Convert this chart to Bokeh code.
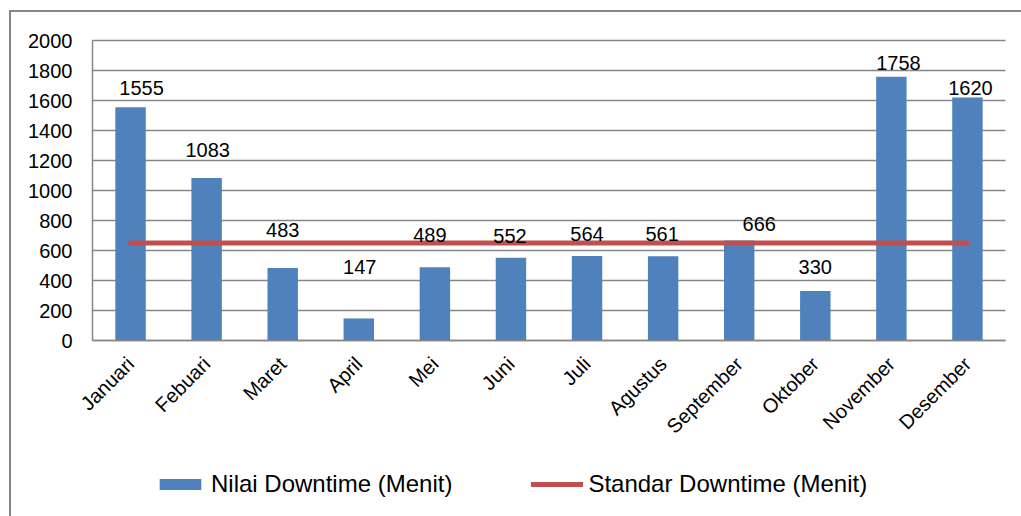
import math
from bokeh.plotting import figure
from bokeh.models import (ColumnDataSource, Legend, LegendItem,
                          Range1d, FixedTicker)
from bokeh.embed import file_html
from bokeh.resources import INLINE
from bokeh.core.properties import value

# ---- data ----
months = ["Januari", "Febuari", "Maret", "April", "Mei", "Juni", "Juli",
          "Agustus", "September", "Oktober", "November", "Desember"]
downtime = [1555, 1083, 483, 147, 489, 552, 564, 561, 666, 330, 1758, 1620]
standard = [650] * 12
y_ticks = [0, 200, 400, 600, 800, 1000, 1200, 1400, 1600, 1800, 2000]

# label nudges (pixels), as the labels sit in the original chart
label_dx = [11, 1, 0, 1, -5, -1, 0, -1, 20, 0, 7, 3]
label_dy = [-19, -28, -38, -51, -32, -22, -22, -22, -17, -24, -14, -10]

FONT = "Liberation Sans"
GRID = "#868686"
W, H = 1021, 516
# plot-area placement on the canvas (pixels)
PL, PR, PT, PB = 92, 1005, 40, 340

n = len(months)
idx = list(range(n))
x_lo, x_hi = -0.5, n - 0.5
y_lo, y_hi = y_ticks[0], y_ticks[-1]
xs = (PR - PL) / (x_hi - x_lo)
ys = (PB - PT) / (y_hi - y_lo)
x_range = Range1d(x_lo - PL / xs, x_hi + (W - PR) / xs)
y_range = Range1d(y_lo - (H - PB) / ys, y_hi + PT / ys)

src = ColumnDataSource(dict(x=idx, month=months, downtime=downtime,
                            standard=standard,
                            label=[str(v) for v in downtime],
                            dx=label_dx, dy=label_dy))

p = figure(width=W, height=H, x_range=x_range, y_range=y_range,
           output_backend="svg", toolbar_location=None, min_border=0)
p.outline_line_color = None
p.background_fill_color = "white"
p.border_fill_color = "white"
p.xgrid.grid_line_color = None
p.ygrid.grid_line_color = None

# horizontal gridlines across the plot area only
p.segment(x0=x_lo, x1=x_hi, y0=y_ticks, y1=y_ticks,
          line_color=GRID, line_width=1.5)

bars = p.vbar(x="x", top="downtime", width=0.4, source=src,
              fill_color="#4F81BD", line_color=None)
line = p.line(x="x", y="standard", source=src, line_color="#C0504D",
              line_width=5, line_cap="round")
p.text(x="x", y="downtime", text="label", x_offset="dx", y_offset="dy",
       source=src, text_align="center", text_baseline="middle",
       text_font=value(FONT), text_font_size="20px", text_color="black")

p.yaxis.fixed_location = x_lo
p.yaxis.ticker = FixedTicker(ticks=y_ticks)
p.yaxis.bounds = (y_lo, y_hi)
p.yaxis.major_label_standoff = 20
p.xaxis.fixed_location = y_lo
p.xaxis.ticker = FixedTicker(ticks=idx)
p.xaxis.major_label_overrides = {i: m for i, m in zip(idx, months)}
p.xaxis.bounds = (x_lo, x_hi)
p.xaxis.major_label_orientation = math.pi / 4
p.xaxis.major_label_standoff = 20
for ax in (p.xaxis, p.yaxis):
    ax.minor_tick_line_color = None
    ax.major_tick_line_color = None
    ax.major_tick_out = 0
    ax.major_tick_in = 0
    ax.axis_line_color = GRID
    ax.axis_line_width = 1.5
    ax.major_label_text_font = FONT
    ax.major_label_text_font_size = "20px"
    ax.major_label_text_color = "black"

legend = Legend(items=[LegendItem(label="Nilai Downtime (Menit)", renderers=[bars]),
                       LegendItem(label="Standar Downtime (Menit)", renderers=[line])],
                orientation="horizontal", location=(154, 18),
                glyph_width=52, glyph_height=14, label_standoff=5, spacing=79,
                padding=0, margin=0, border_line_color=None,
                background_fill_alpha=0,
                label_text_font=FONT, label_text_font_size="24px",
                label_text_color="black")
p.add_layout(legend, "center")

html = file_html(p, INLINE)
frame_css = ("<style>body::after{content:'';position:fixed;left:9px;top:10px;"
             "width:2000px;height:2000px;border-left:2px solid #868686;"
             "border-top:2px solid #868686;pointer-events:none;z-index:10;}</style>")
html = html.replace("</head>", frame_css + "</head>", 1)
open("out.html", "w").write(html)
